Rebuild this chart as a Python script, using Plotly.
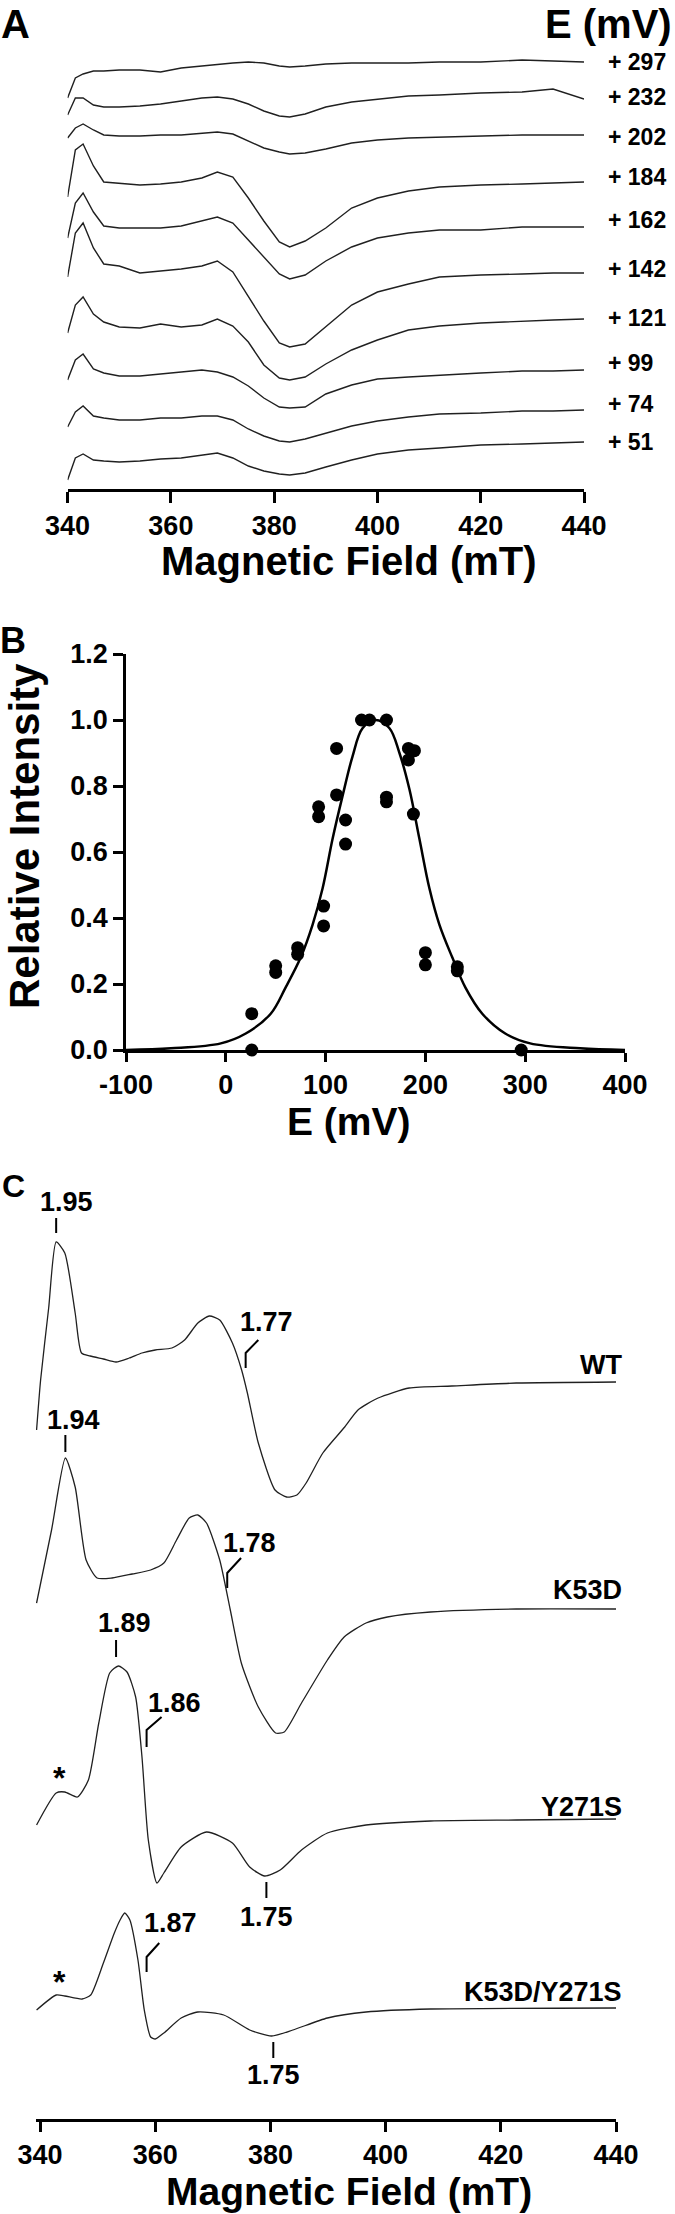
import plotly.graph_objects as go

# ---------------- Panel A: EPR spectra at different potentials ----------------
fields_a = [340, 341.5, 343, 345, 347, 350, 354, 358, 362, 366, 369, 372, 375,
            378, 381, 383, 386, 390, 395, 400, 406, 412, 420, 428, 434, 440]
potentials_a = ['+ 297', '+ 232', '+ 202', '+ 184', '+ 162', '+ 142', '+ 121', '+ 99', '+ 74', '+ 51']
sig_297 = [-36, -16, -12, -9, -9, -8, -8, -10, -6, -4, -2, -1, 0, -1, -4, -5, -4, -2, -1, -1, -1, 0, 0, 2, 1, 0]
sig_232 = [-16, 1, 1, -6, -8, -8, -7, -5, -2, 1, 2, 0, -5, -12, -17, -18, -15, -8, -3, 0, 3, 4, 6, 7, 10, 0]
sig_202 = [-3, 7, 11, 5, 0, -1, -1, 0, 0, 2, 3, 1, -6, -13, -17, -19, -18, -14, -8, -5, -3, -2, -1, 0, 0, 0]
sig_184 = [-15, 32, 38, 16, 0, -1, -3, -2, 0, 4, 10, 5, -16, -39, -60, -65, -59, -46, -26, -16, -9, -5, -3, -2, -1, 0]
sig_162 = [-11, 24, 34, 15, 1, -1, -1, -1, 1, 6, 10, 4, -13, -31, -47, -52, -48, -34, -20, -11, -6, -3, -3, 0, 0, 0]
sig_142 = [-4, 40, 50, 25, 9, 7, 0, 2, 4, 7, 12, 1, -24, -48, -70, -74, -71, -54, -32, -19, -11, -4, -2, -1, 0, 0]
sig_121 = [-14, 14, 22, 5, -3, -8, -9, -5, -8, -6, 0, -7, -23, -46, -59, -61, -58, -45, -31, -21, -11, -7, -4, -2, -1, 0]
sig_99 = [-10, 10, 16, 1, -3, -6, -6, -4, -2, 0, -2, -7, -16, -28, -37, -38, -37, -24, -15, -9, -7, -5, -3, -1, -1, 0]
sig_74 = [-17, -2, 4, -6, -8, -10, -10, -8, -8, -6, -6, -10, -19, -26, -31, -32, -29, -23, -16, -11, -7, -4, -3, -1, -1, 0]
sig_51 = [-38, -16, -12, -18, -19, -20, -19, -17, -16, -13, -11, -16, -24, -29, -32, -33, -31, -25, -18, -12, -8, -6, -3, -2, -1, 0]
ticks_field = [340, 360, 380, 400, 420, 440]

# ---------------- Panel B: redox titration ----------------
e_pts = [26, 26, 50, 50, 72, 72, 93, 93, 98, 98, 111, 111, 120, 120, 136, 144,
         161, 161, 161, 183, 183, 189, 188, 200, 200, 232, 232, 296]
i_pts = [0.11, 0.0, 0.255, 0.235, 0.31, 0.29, 0.737, 0.707, 0.436, 0.376, 0.914, 0.773,
         0.697, 0.624, 1.0, 1.0, 1.0, 0.766, 0.752, 0.914, 0.879, 0.907, 0.715,
         0.295, 0.258, 0.252, 0.24, 0.0]
fit_e = [-100, -55, -5, 20, 45, 60, 75, 87, 97, 107, 117, 127, 137, 150, 164, 174,
         184, 194, 204, 214, 227, 240, 257, 280, 305, 355, 400]
fit_i = [0.0, 0.005, 0.02, 0.05, 0.11, 0.19, 0.28, 0.38, 0.49, 0.64, 0.77, 0.89, 0.975,
         1.0, 0.975, 0.90, 0.79, 0.64, 0.49, 0.38, 0.28, 0.19, 0.11, 0.05, 0.02, 0.005, 0.0]
ticks_e = [-100, 0, 100, 200, 300, 400]
ticks_i = [0, 0.2, 0.4, 0.6, 0.8, 1.0, 1.2]

# ---------------- Panel C: mutant spectra ----------------
wt_field = [339.4, 340.1, 341.5, 342.8, 344.3, 346.1, 347.2, 348.7, 351, 353.2, 355.5, 357.7,
            360, 362.9, 365.1, 367.4, 369.4, 371.2, 373.4, 375, 376, 377.9, 380.8, 382.8,
            384.6, 386.2, 389.1, 392.9, 395.2, 398.7, 404.1, 411.5, 422.7, 440]
wt_sig = [-48, 2, 74, 140, 129, 69, 29, 26, 23, 20, 24, 29, 32, 34, 42, 59, 66, 62, 39, 12,
          -11, -61, -108, -115, -113, -101, -71, -45, -28, -16, -6, -4, -1, 0]
k53d_field = [339.4, 342, 344.4, 346.1, 348.0, 349.9, 352.5, 356, 359.2, 361.5, 363.7, 365.9,
              367.4, 368.9, 371.2, 373, 375, 377.9, 380.9, 382.4, 385.4, 389.9, 392.8,
              396.6, 400.3, 407.8, 422.7, 440]
k53d_sig = [6, 79, 151, 122, 49, 31, 31, 35, 39, 46, 69, 91, 94, 86, 49, 0, -55, -98, -124,
            -123, -94, -51, -28, -14, -8, -3, 0, 0]
y271s_field = [339.4, 342.8, 344.3, 346.5, 348.4, 350.2, 352.1, 353.6, 355.1, 356.6, 357.7,
               358.8, 360.3, 361.5, 364.5, 368.9, 373.4, 376.4, 379.0, 381.7, 385.4, 389.9,
               396.6, 407.8, 422.7, 440]
y271s_sig = [-6, 26, 27, 22, 39, 96, 146, 153, 147, 122, 62, -21, -64, -54, -28, -13, -24,
             -48, -57, -51, -31, -14, -6, -2, -1, 0]
dbl_field = [339.4, 342.8, 344.3, 347.3, 348.8, 351.0, 352.9, 353.9, 354.7, 355.6, 357.0,
             358.1, 359.2, 360.0, 361.5, 364.5, 367.4, 371.9, 376.4, 380.2, 383.9, 389.9,
             396.6, 407.8, 440]
dbl_sig = [-2, 13, 12, 9, 13, 45, 75, 88, 95, 88, 48, -2, -29, -31, -25, -10, -4, -7, -22,
           -28, -22, -10, -4, -1, 0]
mutants = ['WT', 'K53D', 'Y271S', 'K53D/Y271S']

W, H = 675, 2214
FONT = 'Liberation Sans, Arial, sans-serif'


def fx(p):
    return p / W


def fy(p):
    return 1 - p / H


def bold(vals, fmt='{:g}'):
    return ['<b>' + fmt.format(v) + '</b>' for v in vals]


fig = go.Figure()

# panel A traces, stacked
offsets_a = [427, 390, 354, 307, 262, 216, 170, 119, 79, 47]
sigs_a = [sig_297, sig_232, sig_202, sig_184, sig_162, sig_142, sig_121, sig_99, sig_74, sig_51]
for sig, off in zip(sigs_a, offsets_a):
    fig.add_trace(go.Scatter(x=fields_a, y=[v + off for v in sig], mode='lines',
                             line=dict(color='#202020', width=1.4), xaxis='x', yaxis='y'))

# panel B
fig.add_trace(go.Scatter(x=fit_e, y=fit_i, mode='lines', line=dict(color='black', width=2.5, shape='spline'),
                         xaxis='x2', yaxis='y2'))
fig.add_trace(go.Scatter(x=e_pts, y=i_pts, mode='markers', marker=dict(color='black', size=13),
                         xaxis='x2', yaxis='y2', cliponaxis=False))

# panel C traces
offsets_c = [737, 510, 300, 111]
for fld, sig, off in zip([wt_field, k53d_field, y271s_field, dbl_field],
                         [wt_sig, k53d_sig, y271s_sig, dbl_sig], offsets_c):
    fig.add_trace(go.Scatter(x=fld, y=[v + off for v in sig], mode='lines',
                             line=dict(color='#202020', width=1.3, shape='spline', smoothing=0.6),
                             xaxis='x3', yaxis='y3'))

tickfont = dict(family=FONT, size=27, color='black')
ax_common = dict(showgrid=False, zeroline=False, showline=True, linecolor='black', automargin=False,
                 ticks='outside', tickcolor='black', tickfont=tickfont)

fig.update_layout(
    template='none',
    width=W, height=H, margin=dict(l=0, r=0, t=0, b=0, autoexpand=False),
    paper_bgcolor='white', plot_bgcolor='white', showlegend=False,
    xaxis=dict(domain=[fx(67.6), fx(584)], range=[340, 440], anchor='y',
               tickvals=ticks_field, ticktext=bold(ticks_field), linewidth=3, ticklen=11, tickwidth=3,
               **ax_common),
    yaxis=dict(domain=[fy(489), fy(0)], range=[0, 489], visible=False, anchor='x'),
    xaxis2=dict(domain=[fx(126), fx(625)], range=[-100, 400], anchor='y2',
                tickvals=ticks_e, ticktext=bold(ticks_e), linewidth=2.5, ticklen=9, tickwidth=2.5,
                **ax_common),
    yaxis2=dict(domain=[fy(1050), fy(654)], range=[0, 1.2], anchor='x2',
                tickvals=ticks_i, ticktext=bold(ticks_i, '{:.1f}'),
                linewidth=2.5, ticklen=10, tickwidth=2.5, **ax_common),
    xaxis3=dict(domain=[fx(36), fx(616)], range=[339.3, 440], anchor='y3',
                tickvals=ticks_field, ticktext=bold(ticks_field), linewidth=3, ticklen=10, tickwidth=3,
                **ax_common),
    yaxis3=dict(domain=[fy(2119), fy(1170)], range=[0, 949], visible=False, anchor='x3'),
)


def note(text, x, y, size, xanchor='center', angle=0, xref='paper', yref='paper'):
    fig.add_annotation(text=f'<b>{text}</b>', x=x, y=y, xref=xref, yref=yref,
                       xanchor=xanchor, yanchor='middle', showarrow=False, textangle=angle,
                       font=dict(family=FONT, size=size, color='black'))


# axis titles and panel letters
note('Magnetic Field (mT)', fx(349), fy(561), 40)
note('E (mV)', fx(349), fy(1121), 39)
note('Magnetic Field (mT)', fx(349), fy(2191), 39)
note('Relative Intensity', fx(24), fy(836), 42, angle=-90)
note('E (mV)', fx(674), fy(24), 40, xanchor='right')
note('A', fx(15), fy(24), 40)
note('B', fx(13), fy(640), 36)
note('C', fx(13), fy(1186), 32)

# potential labels in panel A
label_y_a = [62, 97, 137, 177, 220, 269, 318, 363, 404, 442]
for lab, py in zip(potentials_a, label_y_a):
    note(lab, fx(606), fy(py), 23, xanchor='left')

# mutant labels in panel C
label_y_c = [1365, 1590, 1807, 1992]
for lab, py in zip(mutants, label_y_c):
    note(lab, fx(624), fy(py), 27, xanchor='right')

# g-value labels in panel C (data coords)
g_labels = [('1.95', 344.6, 917), ('1.77', 379.4, 797), ('1.94', 345.8, 699), ('1.78', 376.4, 576),
            ('1.89', 354.7, 496), ('1.86', 363.3, 416), ('1.75', 379.3, 202), ('1.87', 362.6, 196),
            ('1.75', 380.5, 44)]
for t, x, y in g_labels:
    note(t, x, y, 27, xref='x3', yref='y3')
for x, y in [(343.4, 341), (343.3, 137)]:
    note('*', x, y, 32, xref='x3', yref='y3')

# marker ticks and brackets
ticks_c = [(342.8, 886, 901), (344.4, 667, 684), (353.2, 462, 479), (379.3, 221, 237), (380.5, 61, 77)]
for x, y0, y1 in ticks_c:
    fig.add_shape(type='line', x0=x, x1=x, y0=y0, y1=y1, xref='x3', yref='y3',
                  line=dict(color='black', width=2))
brackets_c = [(375.7, 751, 766, 377.9, 779), (372.5, 531, 546, 374.9, 561),
              (358.5, 372, 389, 361.1, 402), (358.5, 147, 162, 360.7, 176)]
for xa, ya, yb, xb, yc in brackets_c:
    fig.add_shape(type='path', path=f'M {xa},{ya} L {xa},{yb} L {xb},{yc}', xref='x3', yref='y3',
                  line=dict(color='black', width=2))

# the page body has a default margin; drop it so the figure sits at the window origin
fig.write_html('out.html', config={'displayModeBar': False},
               post_script="document.body.style.margin='0px';")
